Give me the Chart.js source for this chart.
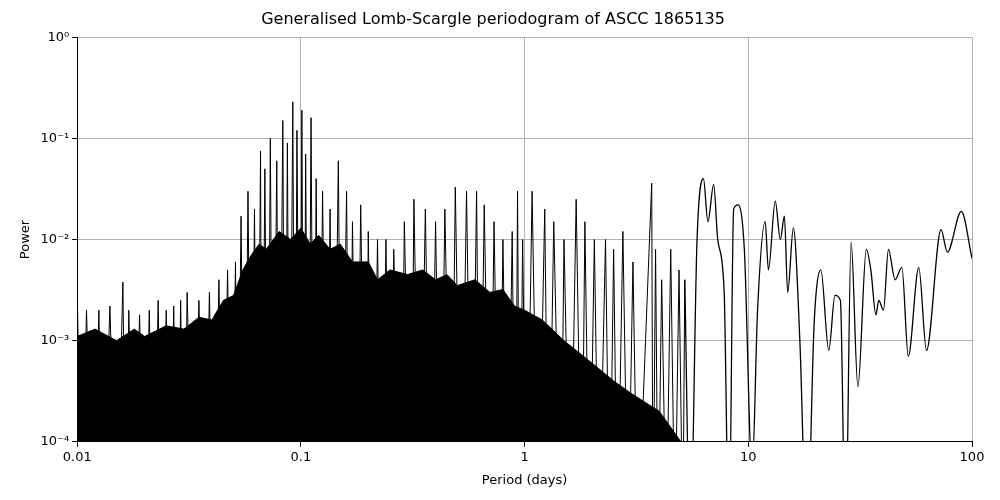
<!DOCTYPE html>
<html><head><meta charset="utf-8">
<script src="https://cdn.jsdelivr.net/npm/chart.js@4"></script>
<style>html,body{margin:0;background:#fff}</style>
</head><body><canvas id="c" width="1000" height="500"></canvas>
<script>
// Upper edge of the solid dense region (period days, power)
const bandPeriod = [0.01,0.012,0.015,0.018,0.02,0.025,0.03,0.035,0.04,0.045,0.05,0.055,0.06,0.065,0.07,0.08,0.09,0.1,0.11,0.12,0.135,0.15,0.17,0.2,0.22,0.25,0.3,0.35,0.4,0.45,0.5,0.6,0.7,0.8,0.9,1,1.2,1.5,2,2.5,3,4,5];
const bandPower  = [0.0011,0.0013,0.001,0.0013,0.0011,0.0014,0.0013,0.0017,0.0016,0.0025,0.0028,0.005,0.007,0.009,0.008,0.012,0.01,0.013,0.009,0.011,0.008,0.009,0.006,0.006,0.004,0.005,0.0045,0.005,0.004,0.0045,0.0035,0.004,0.003,0.0032,0.0022,0.002,0.0016,0.001,0.0006,0.0004,0.0003,0.0002,0.0001];
// Spiky part of the periodogram
const spikePeriod = [0.01,0.0105,0.011,0.0118,0.0125,0.013,0.014,0.015,0.016,0.0165,0.017,0.018,0.019,0.02,0.021,0.022,0.023,0.024,0.025,0.026,0.027,0.028,0.029,0.030,0.031,0.033,0.035,0.037,0.039,0.041,0.043,0.045,0.047,0.049,0.051,0.052,0.054,0.056,0.058,0.06,0.062,0.064,0.066,0.067,0.069,0.071,0.073,0.075,0.078,0.080,0.083,0.085,0.087,0.089,0.092,0.094,0.096,0.099,0.101,0.103,0.105,0.108,0.111,0.114,0.117,0.12,0.125,0.13,0.135,0.14,0.147,0.152,0.16,0.165,0.17,0.178,0.185,0.195,0.2,0.21,0.22,0.23,0.24,0.25,0.26,0.28,0.29,0.31,0.32,0.34,0.36,0.38,0.40,0.42,0.44,0.47,0.49,0.52,0.55,0.58,0.61,0.63,0.66,0.70,0.73,0.77,0.80,0.84,0.88,0.91,0.93,0.95,0.98,1.02,1.08,1.15,1.23,1.28,1.35,1.45,1.5,1.6,1.7,1.8,1.86,1.95,2.05,2.15,2.3,2.4,2.5,2.6,2.75,2.9,3.05,3.2,3.7,3.75,3.85,3.95,4.1,4.3,4.5,4.7,4.9,5.1,5.2];
const spikePower = [0.003,0.00001,0.002,0.00001,0.002,0.00001,0.0022,0.00001,0.0038,0.00001,0.002,0.00001,0.0018,0.00001,0.002,0.00001,0.0025,0.00001,0.002,0.00001,0.0022,0.00001,0.0025,0.00001,0.003,0.00001,0.0025,0.00001,0.003,0.00001,0.004,0.00001,0.005,0.00001,0.006,0.00001,0.017,0.00001,0.03,0.00001,0.02,0.00001,0.075,0.00001,0.05,0.00001,0.1,0.00001,0.06,0.00001,0.15,0.00001,0.09,0.00001,0.23,0.00001,0.12,0.00001,0.19,0.00001,0.07,0.00001,0.16,0.00001,0.04,0.00001,0.03,0.00001,0.02,0.00001,0.06,0.00001,0.03,0.00001,0.015,0.00001,0.022,0.00001,0.012,0.00001,0.01,0.00001,0.01,0.00001,0.008,0.00001,0.015,0.00001,0.025,0.00001,0.02,0.00001,0.015,0.00001,0.02,0.00001,0.033,0.00001,0.03,0.00001,0.03,0.00001,0.022,0.00001,0.015,0.00001,0.01,0.00001,0.012,0.00001,0.03,0.00001,0.01,0.00001,0.03,0.00001,0.02,0.00001,0.015,0.00001,0.01,0.00001,0.025,0.00001,0.015,0.00001,0.01,0.00001,0.01,0.00001,0.008,0.00001,0.012,0.00001,0.006,0.00001,0.036,0.00001,0.008,0.00001,0.004,0.00001,0.008,0.00001,0.005,0.00001,0.004];
// Smooth long-period part
const smoothPeriod = [5.2,5.5,5.9,6.3,6.6,7.0,7.3,7.8,8.2,8.6,9.0,9.6,10.4,11.0,11.9,12.3,13.2,13.9,14.5,15.0,15.9,17.0,18.3,19.7,21.1,22.9,24.4,25.8,27.2,28.8,30.9,33.7,35.3,37.2,38.3,40.2,42.3,45.3,48.6,51.9,57.8,62.6,72.7,77.6,89.6,100];
const smoothPower = [0.004,0.00001,0.01,0.04,0.015,0.035,0.01,0.003,0.00001,0.02,0.022,0.008,0.00005,0.002,0.015,0.005,0.024,0.01,0.017,0.003,0.013,0.001,0.00001,0.0015,0.005,0.0008,0.0028,0.0025,0.00001,0.0094,0.00035,0.008,0.005,0.0018,0.0025,0.002,0.008,0.004,0.0053,0.0007,0.0053,0.0008,0.0125,0.0075,0.019,0.0065];
const xTicks = [0.01,0.1,1,10,100];
const yTicks = [1e-4,1e-3,1e-2,1e-1,1];
const yLabels = ['10⁻⁴','10⁻³','10⁻²','10⁻¹','10⁰'];

const pts=(a,b)=>a.map((x,i)=>({x:x,y:b[i]}));
const F='DejaVu Sans';
new Chart(document.getElementById('c'),{
 type:'line',
 data:{datasets:[
  {data:pts(bandPeriod,bandPower),borderColor:'#000',backgroundColor:'#000',fill:'start',borderWidth:1,pointRadius:0,tension:0},
  {data:pts(spikePeriod,spikePower),borderColor:'#000',borderWidth:1,pointRadius:0,tension:0,fill:false},
  {data:pts(smoothPeriod,smoothPower),borderColor:'#000',borderWidth:1.3,pointRadius:0,cubicInterpolationMode:'monotone',fill:false}
 ]},
 options:{responsive:false,animation:false,
  layout:{padding:{left:14,right:28,top:0,bottom:8}},
  plugins:{legend:{display:false},tooltip:{enabled:false},
   title:{display:true,text:'Generalised Lomb-Scargle periodogram of ASCC 1865135',color:'#000',font:{family:F,size:16,weight:'normal'},padding:{top:10,bottom:8}}},
  scales:{
   x:{type:'logarithmic',min:0.01,max:100,
    afterBuildTicks:a=>{a.ticks=xTicks.map(v=>({value:v}))},
    ticks:{color:'#000',font:{family:F,size:13},maxRotation:0,autoSkip:false,callback:v=>String(v)},
    grid:{color:'#b0b0b0',tickColor:'#000',tickLength:5},border:{color:'#000'},
    title:{display:true,text:'Period (days)',color:'#000',font:{family:F,size:13}}},
   y:{type:'logarithmic',min:1e-4,max:1,
    afterBuildTicks:a=>{a.ticks=yTicks.map(v=>({value:v}))},
    ticks:{color:'#000',font:{family:F,size:13},autoSkip:false,callback:v=>yLabels[yTicks.findIndex(t=>Math.abs(Math.log10(t)-Math.log10(v))<1e-6)]},
    grid:{color:'#b0b0b0',tickColor:'#000',tickLength:5},border:{color:'#000'},
    title:{display:true,text:'Power',color:'#000',font:{family:F,size:13}}}
  }}
});
</script></body></html>
